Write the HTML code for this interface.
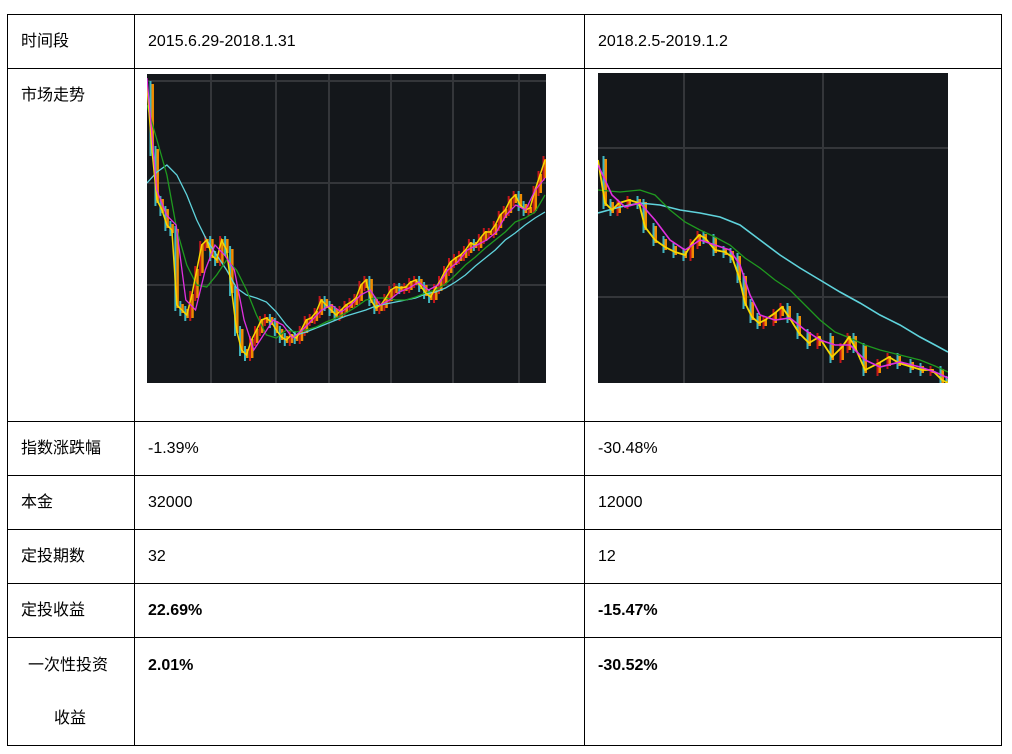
<!DOCTYPE html>
<html><head><meta charset="utf-8"><style>
body{margin:0;width:1012px;height:754px;background:#fff;position:relative;overflow:hidden;font-family:"Liberation Sans","Noto Sans CJK SC",sans-serif;font-size:16px;color:#000}
.h{position:absolute;height:1px;background:#000;left:7px;width:995px}
.v{position:absolute;width:1px;background:#000;top:14px;height:732px}
.t{position:absolute;line-height:20px;white-space:nowrap}
.b{font-weight:bold}
svg{position:absolute}
</style></head><body>
<div class="h" style="top:14px"></div>
<div class="h" style="top:68px"></div>
<div class="h" style="top:421px"></div>
<div class="h" style="top:475px"></div>
<div class="h" style="top:529px"></div>
<div class="h" style="top:583px"></div>
<div class="h" style="top:637px"></div>
<div class="h" style="top:745px"></div>
<div class="v" style="left:7px"></div>
<div class="v" style="left:134px"></div>
<div class="v" style="left:584px"></div>
<div class="v" style="left:1001px"></div>

<div class="t" style="left:21px;top:32px">时间段</div>
<div class="t" style="left:148px;top:32px">2015.6.29-2018.1.31</div>
<div class="t" style="left:598px;top:32px">2018.2.5-2019.1.2</div>
<div class="t" style="left:21px;top:86px">市场走势</div>
<div class="t" style="left:21px;top:439px">指数涨跌幅</div>
<div class="t" style="left:148px;top:439px">-1.39%</div>
<div class="t" style="left:598px;top:439px">-30.48%</div>
<div class="t" style="left:21px;top:493px">本金</div>
<div class="t" style="left:148px;top:493px">32000</div>
<div class="t" style="left:598px;top:493px">12000</div>
<div class="t" style="left:21px;top:547px">定投期数</div>
<div class="t" style="left:148px;top:547px">32</div>
<div class="t" style="left:598px;top:547px">12</div>
<div class="t" style="left:21px;top:601px">定投收益</div>
<div class="t b" style="left:148px;top:601px">22.69%</div>
<div class="t b" style="left:598px;top:601px">-15.47%</div>
<div class="t" style="left:28px;top:656px">一次性投资</div>
<div class="t" style="left:54px;top:709px">收益</div>
<div class="t b" style="left:148px;top:656px">2.01%</div>
<div class="t b" style="left:598px;top:656px">-30.52%</div>

<svg id="c1" style="left:147px;top:74px" width="399" height="309"></svg>
<svg id="c2" style="left:598px;top:73px" width="350" height="310"></svg>

<script>
// Chart 1 data (uniformly spaced samples)
const c1Close=[4890,4240,3740,3640,3490,3440,2690,2640,2590,2790,3040,3290,3340,3190,3140,3340,3240,2840,2440,2240,2190,2340,2440,2540,2560,2520,2440,2370,2340,2390,2360,2440,2540,2560,2620,2740,2690,2640,2590,2640,2690,2720,2760,2890,2940,2740,2660,2690,2760,2840,2870,2860,2870,2920,2940,2880,2810,2770,2860,2940,3040,3120,3160,3190,3240,3310,3290,3360,3420,3420,3490,3590,3640,3740,3790,3690,3640,3660,3840,3990,4140];
const c1MA5=[4960,3840,3590,3490,2740,2640,3040,3290,3190,3040,2540,2240,2390,2540,2490,2360,2440,2540,2640,2690,2620,2690,2790,2840,2690,2740,2820,2860,2920,2840,2890,3040,3120,3240,3290,3340,3420,3590,3690,3640,3840,3960];
const c1MA20=[4690,4340,3990,3440,3090,2890,2870,2990,3140,3040,2840,2590,2390,2360,2440,2420,2440,2470,2520,2560,2610,2670,2740,2760,2760,2740,2740,2770,2810,2840,2900,2990,3090,3170,3260,3340,3420,3520,3560,3620,3790];
const c1MA60=[3910,4020,4090,3990,3790,3540,3340,3190,3040,2860,2790,2760,2720,2620,2490,2390,2420,2460,2500,2540,2580,2610,2640,2680,2700,2720,2740,2760,2800,2820,2860,2920,2990,3080,3160,3240,3340,3410,3490,3560,3620];
// Chart 2 data (day index, value)
const c2Days=[0,7,14,21,31,41,47,57,67,77,87,94,101,107,117,127,134,141,147,154,161,167,177,184,191,201,211,221,234,244,251,257,267,281,291,301,314,324,334,344,350];
const c2Close=[4140,3710,3640,3710,3740,3710,3470,3340,3270,3220,3190,3310,3390,3360,3240,3220,3170,2970,2710,2570,2510,2540,2610,2670,2570,2410,2310,2370,2170,2270,2370,2270,2040,2110,2170,2110,2070,2040,2040,1940,1910];
const c2MA5Days=[0,14,27,42,57,72,87,102,117,132,142,152,162,177,192,207,222,237,252,267,282,302,322,337,350];
const c2MA5=[4090,3790,3670,3710,3540,3340,3240,3340,3290,3240,3090,2790,2590,2540,2560,2440,2340,2290,2290,2140,2070,2120,2070,2020,1960];
const c2MA20Days=[0,22,42,57,72,87,102,117,132,147,162,177,192,207,222,237,252,267,282,302,322,337,350];
const c2MA20=[3840,3820,3840,3790,3640,3520,3440,3370,3290,3160,3060,2940,2840,2690,2540,2420,2360,2290,2240,2190,2140,2080,2020];
const c2MA60Days=[0,22,42,62,82,102,122,142,162,182,202,222,242,262,282,302,322,337,350];
const c2MA60=[3610,3670,3710,3690,3640,3610,3570,3490,3340,3190,3060,2940,2820,2710,2590,2490,2370,2290,2220];

const NS='http://www.w3.org/2000/svg';
function el(svg,tag,attrs){const e=document.createElementNS(NS,tag);for(const k in attrs)e.setAttribute(k,attrs[k]);svg.appendChild(e);return e;}
function setup(svg,w,h,vg,hg){
  const r=el(svg,'rect',{x:0,y:0,width:w,height:h,fill:'#14171b'});
  
  
  vg.forEach(x=>{const l=el(svg,'line',{x1:x,x2:x,y1:0,y2:h,stroke:'#34363a','stroke-width':2});
    
    });
  hg.forEach(y=>{const l=el(svg,'line',{x1:0,x2:w,y1:y,y2:y,stroke:'#34363a','stroke-width':2});
    
    });
}
// value axis: top of plot = 5000 (chart1) ; y = (5740 - v)/10 - offset
function yS(top){return v=>(5740-v)/10-top;}
function drawLine(svg,xs,vals,xf,yf,color,name,w){
  const pts=vals.map((v,i)=>xf(xs?xs[i]:i,vals.length)+','+yf(v)).join(' ');
  const p=el(svg,'polyline',{points:pts,fill:'none',stroke:color,'stroke-width':w||1.3});
  
  
}
function drawCandles(svg,xs,vals,xf,yf){
  for(let i=1;i<vals.length;i++){
    const x=xf(xs?xs[i]:i,vals.length);
    const a=yf(vals[i-1]),b=yf(vals[i]);
    const up=vals[i]>=vals[i-1];
    const top=Math.min(a,b)-4,bot=Math.max(a,b)+6;
    const w=el(svg,'rect',{x:x-2.5,y:top,width:2,height:bot-top,fill:up?'#c4161c':'#3fb6c0'});
    
    
    const o=el(svg,'rect',{x:x-0.5,y:Math.min(a,b)-1,width:2.5,height:Math.abs(a-b)+4,fill:'#f08c00'});
    
    
  }
}
// Chart 1
const s1=document.getElementById('c1');
setup(s1,399,309,[64,129,182,244,306,372],[7,109,211]);
const x1=(i,n)=>i*398/(n-1);
const y1=yS(74);
drawCandles(s1,null,c1Close,x1,y1);
drawLine(s1,null,c1MA60,x1,y1,'#5fd3dc','ma60-line');
drawLine(s1,null,c1MA20,x1,y1,'#1f9a1f','ma20-line');
drawLine(s1,null,c1Close,x1,y1,'#f5d800','close-line',1.5);
drawLine(s1,null,c1MA5,x1,y1,'#e030e0','ma5-line');
// Chart 2
const s2=document.getElementById('c2');
setup(s2,350,310,[86,225],[75,224]);
const x2=(d)=>d;
const y2=yS(73);
drawCandles(s2,c2Days,c2Close,x2,y2);
drawLine(s2,c2MA60Days,c2MA60,x2,y2,'#5fd3dc','ma60-line',1.6);
drawLine(s2,c2MA20Days,c2MA20,x2,y2,'#1f9a1f','ma20-line');
drawLine(s2,c2Days,c2Close,x2,y2,'#f5d800','close-line',1.8);
drawLine(s2,c2MA5Days,c2MA5,x2,y2,'#e030e0','ma5-line',1.6);
</script>
</body></html>
